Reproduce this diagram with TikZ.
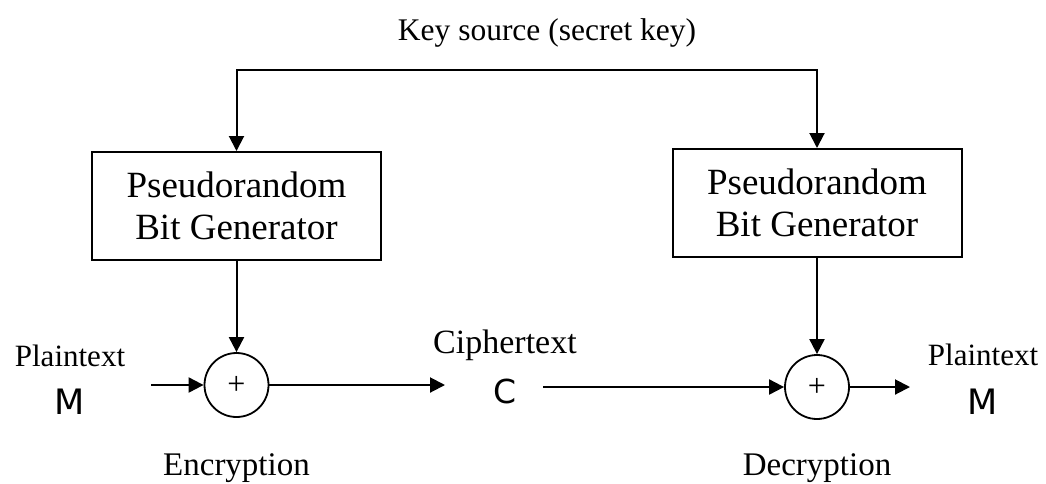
\documentclass[tikz,border=0pt]{standalone}
\usepackage{fontspec}
\setmainfont{Liberation Serif}
\newfontfamily\handfont{DejaVu Sans}
\usetikzlibrary{arrows.meta}

\begin{document}
\begin{tikzpicture}[x=1pt,y=-1pt,
  flow/.style={line width=2pt,-{Triangle[length=15pt,width=15pt]}},
  genbox/.style={draw,line width=2pt,minimum width=289pt,minimum height=108pt,
    align=center,inner sep=0pt,font=\fontsize{37}{42}\selectfont},
  xorgate/.style={draw,circle,line width=1.8pt,minimum size=64pt,inner sep=0pt,
    font=\fontsize{32}{32}\selectfont},
  lbl/.style={anchor=base,inner sep=0pt},
  sym/.style={inner sep=0pt,font=\handfont\fontsize{35}{35}\selectfont}]
\useasboundingbox (0,0) rectangle (1046,483);

% key source feeding both generators
\node[lbl,font=\fontsize{31.5}{31.5}\selectfont] (key) at (547,40) {Key source (secret key)};
\coordinate (ksplit) at (527,70);

\node[genbox] (genL) at (236.5,206) {Pseudorandom\\Bit Generator};
\node[genbox] (genR) at (817,203) {Pseudorandom\\Bit Generator};

\draw[flow] (ksplit) -| (genL.north);
\draw[flow] (ksplit) -| (genR.north);

% XOR combiners (plus sign sits a little below centre)
\node[xorgate] (xorL) at (236.5,385) {\raisebox{-2pt}{+}};
\node[xorgate] (xorR) at (817,387) {\raisebox{-2pt}{+}};

\draw[flow] (genL.south) -- (xorL.north);
\draw[flow] (genR.south) -- (xorR.north);

% plaintext in
\node[lbl,font=\fontsize{31}{31}\selectfont] (ptin) at (70,366) {Plaintext};
\node[sym] (min) at (70,402) {M};
\coordinate (inS) at (151,385);
\draw[flow] (inS) -- (xorL.west);

% ciphertext
\node[lbl,font=\fontsize{34}{34}\selectfont] (ct) at (505,353) {Ciphertext};
\node[sym,font=\handfont\fontsize{33}{33}\selectfont] (cc) at (505,391) {C};
\coordinate (cE) at (445,385);
\coordinate (cS) at (543,387);
\draw[flow] (xorL.east) -- (cE);
\draw[flow] (cS) -- (xorR.west);

% plaintext out
\node[lbl,font=\fontsize{31}{31}\selectfont] (ptout) at (983,365) {Plaintext};
\node[sym] (mout) at (983,402) {M};
\coordinate (outE) at (910,387);
\draw[flow] (xorR.east) -- (outE);

% stage captions
\node[lbl,font=\fontsize{33}{33}\selectfont] (enc) at (236.5,475) {Encryption};
\node[lbl,font=\fontsize{33}{33}\selectfont] (dec) at (817,475) {Decryption};
\end{tikzpicture}
\end{document}
